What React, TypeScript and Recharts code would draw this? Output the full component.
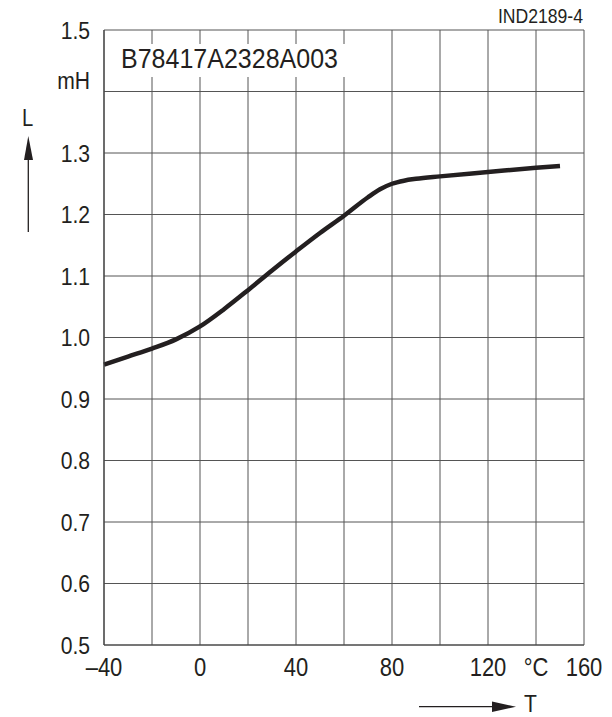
import { LineChart, Line, XAxis, YAxis, CartesianGrid } from "recharts";

const temps = [-40, -30, -20, -10, 0, 10, 20, 30, 40, 50, 60, 70, 75, 80, 85, 90, 100, 120, 140, 150];
const inductance = [
  0.956, 0.969, 0.982, 0.997, 1.018, 1.046, 1.077, 1.109, 1.14, 1.17, 1.198, 1.228, 1.241, 1.25,
  1.255, 1.258, 1.262, 1.269, 1.276, 1.279,
];

const xTicks = [-40, -20, 0, 20, 40, 60, 80, 100, 120, 140, 160];
const xTickLabels = ["\u201340", "", "0", "", "40", "", "80", "", "120", "\u00b0C", "160"];
const yTicks = [0.5, 0.6, 0.7, 0.8, 0.9, 1.0, 1.1, 1.2, 1.3, 1.4, 1.5];
const yTickLabels = ["0.5", "0.6", "0.7", "0.8", "0.9", "1.0", "1.1", "1.2", "1.3", "mH", "1.5"];

const partNumber = "B78417A2328A003";
const figureId = "IND2189-4";

const FONT = "'Liberation Sans', Arial, Helvetica, sans-serif";
const INK = "#231f20";
const NARROW = 0.88;

const data = temps.map((t, i) => ({ t, L: inductance[i] }));

// condensed text: squeeze horizontally around the anchor point
function Narrow(props: any) {
  const { x, y, anchor = "start", size, children } = props;
  return (
    <text
      transform={`translate(${x},${y}) scale(${NARROW},1)`}
      textAnchor={anchor}
      fontFamily={FONT}
      fontSize={size}
      fill={INK}
    >
      {children}
    </text>
  );
}

function XTick(props: any) {
  const { x, y, payload } = props;
  const idx = xTicks.indexOf(payload.value);
  const label = idx >= 0 ? xTickLabels[idx] : "";
  if (!label) return null;
  return (
    <Narrow x={x} y={y + 30.5} anchor="middle" size={25}>
      {label}
    </Narrow>
  );
}

function YTick(props: any) {
  const { x, y, payload } = props;
  const idx = yTicks.findIndex((v) => Math.abs(v - payload.value) < 1e-6);
  const label = idx >= 0 ? yTickLabels[idx] : "";
  const shift = label === "mH" ? -11 : 0;
  return (
    <Narrow x={x} y={y + shift + 8.6} anchor="end" size={24}>
      {label}
    </Narrow>
  );
}

export default function App() {
  return (
    <div style={{ position: "absolute", left: 0, top: 0, width: 612, height: 717, background: "#fff" }}>
      <LineChart width={612} height={717} data={data} margin={{ top: 30, right: 28, bottom: 0, left: 0 }}>
        <CartesianGrid stroke="#555" strokeWidth={1} />
        <XAxis
          dataKey="t"
          type="number"
          domain={[-40, 160]}
          ticks={xTicks}
          interval={0}
          height={72}
          tickSize={0}
          tickMargin={0}
          tickLine={false}
          axisLine={{ stroke: "#444", strokeWidth: 1.2 }}
          tick={<XTick />}
        />
        <YAxis
          type="number"
          domain={[0.5, 1.5]}
          ticks={yTicks}
          interval={0}
          width={104}
          tickSize={0}
          tickMargin={14}
          tickLine={false}
          axisLine={{ stroke: "#444", strokeWidth: 1.2 }}
          tick={<YTick />}
        />
        <Line
          type="monotone"
          dataKey="L"
          stroke={INK}
          strokeWidth={4.5}
          dot={false}
          isAnimationActive={false}
        />
      </LineChart>
      <svg
        width={612}
        height={717}
        style={{ position: "absolute", left: 0, top: 0, pointerEvents: "none" }}
      >
        <Narrow x={583} y={22.7} anchor="end" size={20}>
          {figureId}
        </Narrow>
        <rect x={109} y={44} width={242} height={33} fill="#fff" />
        <text
          x={121}
          y={68.3}
          fontFamily={FONT}
          fontSize={27.5}
          fill={INK}
          textLength={217}
          lengthAdjust="spacingAndGlyphs"
        >
          {partNumber}
        </text>
        <Narrow x={27.5} y={126} anchor="middle" size={23}>
          L
        </Narrow>
        <polygon points="28.3,136 24,160 33,160" fill={INK} />
        <line x1={28.3} y1={158} x2={28.3} y2={232} stroke={INK} strokeWidth={1.3} />
        <line x1={419} y1={706.7} x2={494} y2={706.7} stroke={INK} strokeWidth={1.3} />
        <polygon points="516,706.7 492,701.5 492,712" fill={INK} />
        <Narrow x={530.5} y={711.7} anchor="middle" size={24}>
          T
        </Narrow>
      </svg>
    </div>
  );
}
